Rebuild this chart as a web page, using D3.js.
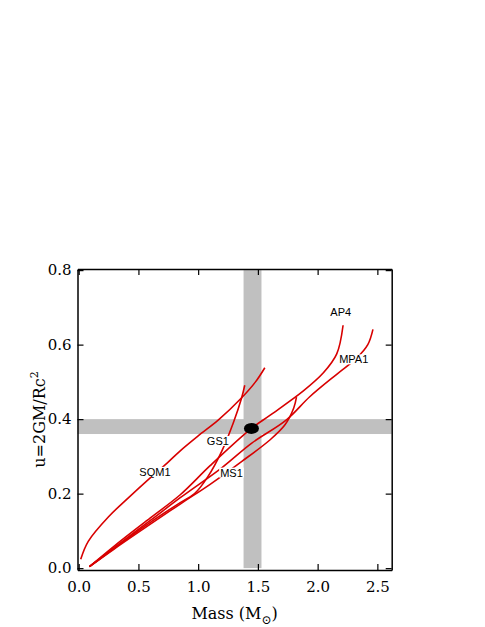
<!DOCTYPE html>
<html>
<head>
<meta charset="utf-8">
<script src="https://cdn.jsdelivr.net/npm/d3@7"></script>
<style>
  body { margin: 0; background: #fff; }
  svg text { font-family: "DejaVu Serif", "Liberation Serif", serif; }
</style>
</head>
<body>
<svg id="chart" width="485" height="627"></svg>
<script>
// u = 2GM/Rc^2 against mass
const sqm1Mass = [0.017, 0.08, 0.25, 0.42, 0.58, 0.74, 0.85, 1.0, 1.17, 1.36, 1.48, 1.558];
const sqm1U    = [0.024, 0.072, 0.138, 0.19, 0.237, 0.282, 0.315, 0.355, 0.398, 0.456, 0.5, 0.538];

const gs1Mass = [0.09, 0.3, 0.6, 0.85, 0.97, 1.08, 1.196, 1.293, 1.363, 1.39];
const gs1U    = [0.004, 0.054, 0.123, 0.176, 0.2, 0.245, 0.313, 0.389, 0.456, 0.491];

const ms1Mass = [0.09, 0.3, 0.6, 0.85, 1.1, 1.363, 1.6, 1.725, 1.8, 1.823];
const ms1U    = [0.004, 0.052, 0.118, 0.172, 0.225, 0.286, 0.344, 0.384, 0.43, 0.459];

const ap4Mass = [0.09, 0.3, 0.6, 0.85, 1.1, 1.446, 1.6, 1.878, 2.05, 2.16, 2.213];
const ap4U    = [0.004, 0.06, 0.135, 0.197, 0.275, 0.375, 0.41, 0.475, 0.525, 0.575, 0.652];

const mpa1Mass = [0.09, 0.3, 0.6, 0.85, 1.2, 1.446, 1.739, 1.934, 2.17, 2.324, 2.42, 2.463];
const mpa1U    = [0.004, 0.056, 0.128, 0.189, 0.27, 0.335, 0.398, 0.46, 0.523, 0.563, 0.6, 0.641];

const labels = [
  { name: 'SQM1', m: 0.638, u: 0.258 },
  { name: 'GS1',  m: 1.165, u: 0.341 },
  { name: 'MS1',  m: 1.279, u: 0.256 },
  { name: 'AP4',  m: 2.193, u: 0.687 },
  { name: 'MPA1', m: 2.302, u: 0.56 }
];

// constraint bands and measured point
const massBand = [1.38, 1.53];
const uBand = [0.36, 0.40];
const point = { m: 1.446, u: 0.375 };

const xTicks = [0, 0.5, 1.0, 1.5, 2.0, 2.5];
const yTicks = [0, 0.2, 0.4, 0.6, 0.8];

const curves = [
  [sqm1Mass, sqm1U], [gs1Mass, gs1U], [ms1Mass, ms1U], [ap4Mass, ap4U], [mpa1Mass, mpa1U]
];

const svg = d3.select('#chart');
const xScale = d3.scaleLinear().domain([-0.01, 2.62]).range([77.5, 391.7]);
const yScale = d3.scaleLinear().domain([-0.005, 0.803]).range([570, 269]);
const plotLeft = xScale.range()[0], plotRight = xScale.range()[1];
const plotTop = yScale.range()[1], plotBottom = yScale.range()[0];

// gray bands
svg.append('rect')
  .attr('x', plotLeft).attr('width', plotRight - plotLeft)
  .attr('y', yScale(uBand[1])).attr('height', yScale(uBand[0]) - yScale(uBand[1]))
  .attr('fill', '#c0c0c0');
svg.append('rect')
  .attr('x', xScale(massBand[0])).attr('width', xScale(massBand[1]) - xScale(massBand[0]))
  .attr('y', yScale(0.8)).attr('height', yScale(0) - yScale(0.8))
  .attr('fill', '#c0c0c0');

const line = d3.line().x(d => xScale(d[0])).y(d => yScale(d[1])).curve(d3.curveCatmullRom.alpha(0.5));

svg.append('g').selectAll('path')
  .data(curves)
  .join('path')
  .attr('d', c => line(c[0].map((m, i) => [m, c[1][i]])))
  .attr('fill', 'none')
  .attr('stroke', '#d80000')
  .attr('stroke-width', 1.6);

// labels knock out the lines behind them
const lab = svg.append('g').selectAll('g').data(labels).join('g')
  .attr('transform', d => `translate(${xScale(d.m)},${yScale(d.u)})`);
lab.append('text')
  .attr('text-anchor', 'middle').attr('dy', '0.35em')
  .style('font-family', 'Liberation Sans, Arial, sans-serif')
  .style('font-size', '11px')
  .text(d => d.name);
lab.each(function () {
  const g = d3.select(this);
  const b = g.select('text').node().getBBox();
  g.insert('rect', 'text')
    .attr('x', b.x - 1).attr('y', b.y + 1).attr('width', b.width + 2).attr('height', b.height - 2)
    .attr('fill', '#fff');
});

svg.append('ellipse')
  .attr('cx', xScale(point.m)).attr('cy', yScale(point.u))
  .attr('rx', 7.5).attr('ry', 5.5)
  .attr('fill', '#000');

// axes, ticks inward on all four sides
const fmt = d3.format('.1f');
const tickText = g => g.selectAll('text')
  .style('font-family', '"DejaVu Serif", serif')
  .style('font-size', '15px')
  .attr('fill', '#000');
svg.append('g').attr('transform', `translate(0,${plotBottom})`)
  .call(d3.axisBottom(xScale).tickValues(xTicks).tickFormat(fmt).tickSizeInner(-6).tickSizeOuter(0).tickPadding(11))
  .call(tickText);
svg.append('g').attr('transform', `translate(0,${plotTop})`)
  .call(d3.axisTop(xScale).tickValues(xTicks).tickFormat('').tickSizeInner(-6).tickSizeOuter(0));
svg.append('g').attr('transform', `translate(${plotLeft},0)`)
  .call(d3.axisLeft(yScale).tickValues(yTicks).tickFormat(fmt).tickSizeInner(-6).tickSizeOuter(0).tickPadding(6))
  .call(tickText);
svg.append('g').attr('transform', `translate(${plotRight},0)`)
  .call(d3.axisRight(yScale).tickValues(yTicks).tickFormat('').tickSizeInner(-6).tickSizeOuter(0));
svg.selectAll('.domain').attr('stroke', '#000').attr('stroke-width', 1.5);
svg.selectAll('.tick line').attr('stroke', '#000').attr('stroke-width', 1.2);

// axis titles
const xt = svg.append('text')
  .attr('x', (plotLeft + plotRight) / 2).attr('y', 619)
  .attr('text-anchor', 'middle')
  .style('font-size', '16px');
xt.append('tspan').text('Mass (M');
xt.append('tspan').text('⊙').attr('dy', 5).style('font-size', '12px');
xt.append('tspan').text(')').attr('dy', -5);

const yt = svg.append('text')
  .attr('transform', `translate(45,${(plotTop + plotBottom) / 2}) rotate(-90)`)
  .attr('text-anchor', 'middle')
  .style('font-size', '16px');
yt.append('tspan').text('u=2GM/Rc');
yt.append('tspan').text('2').attr('dy', -7).style('font-size', '11px');
</script>
</body>
</html>
